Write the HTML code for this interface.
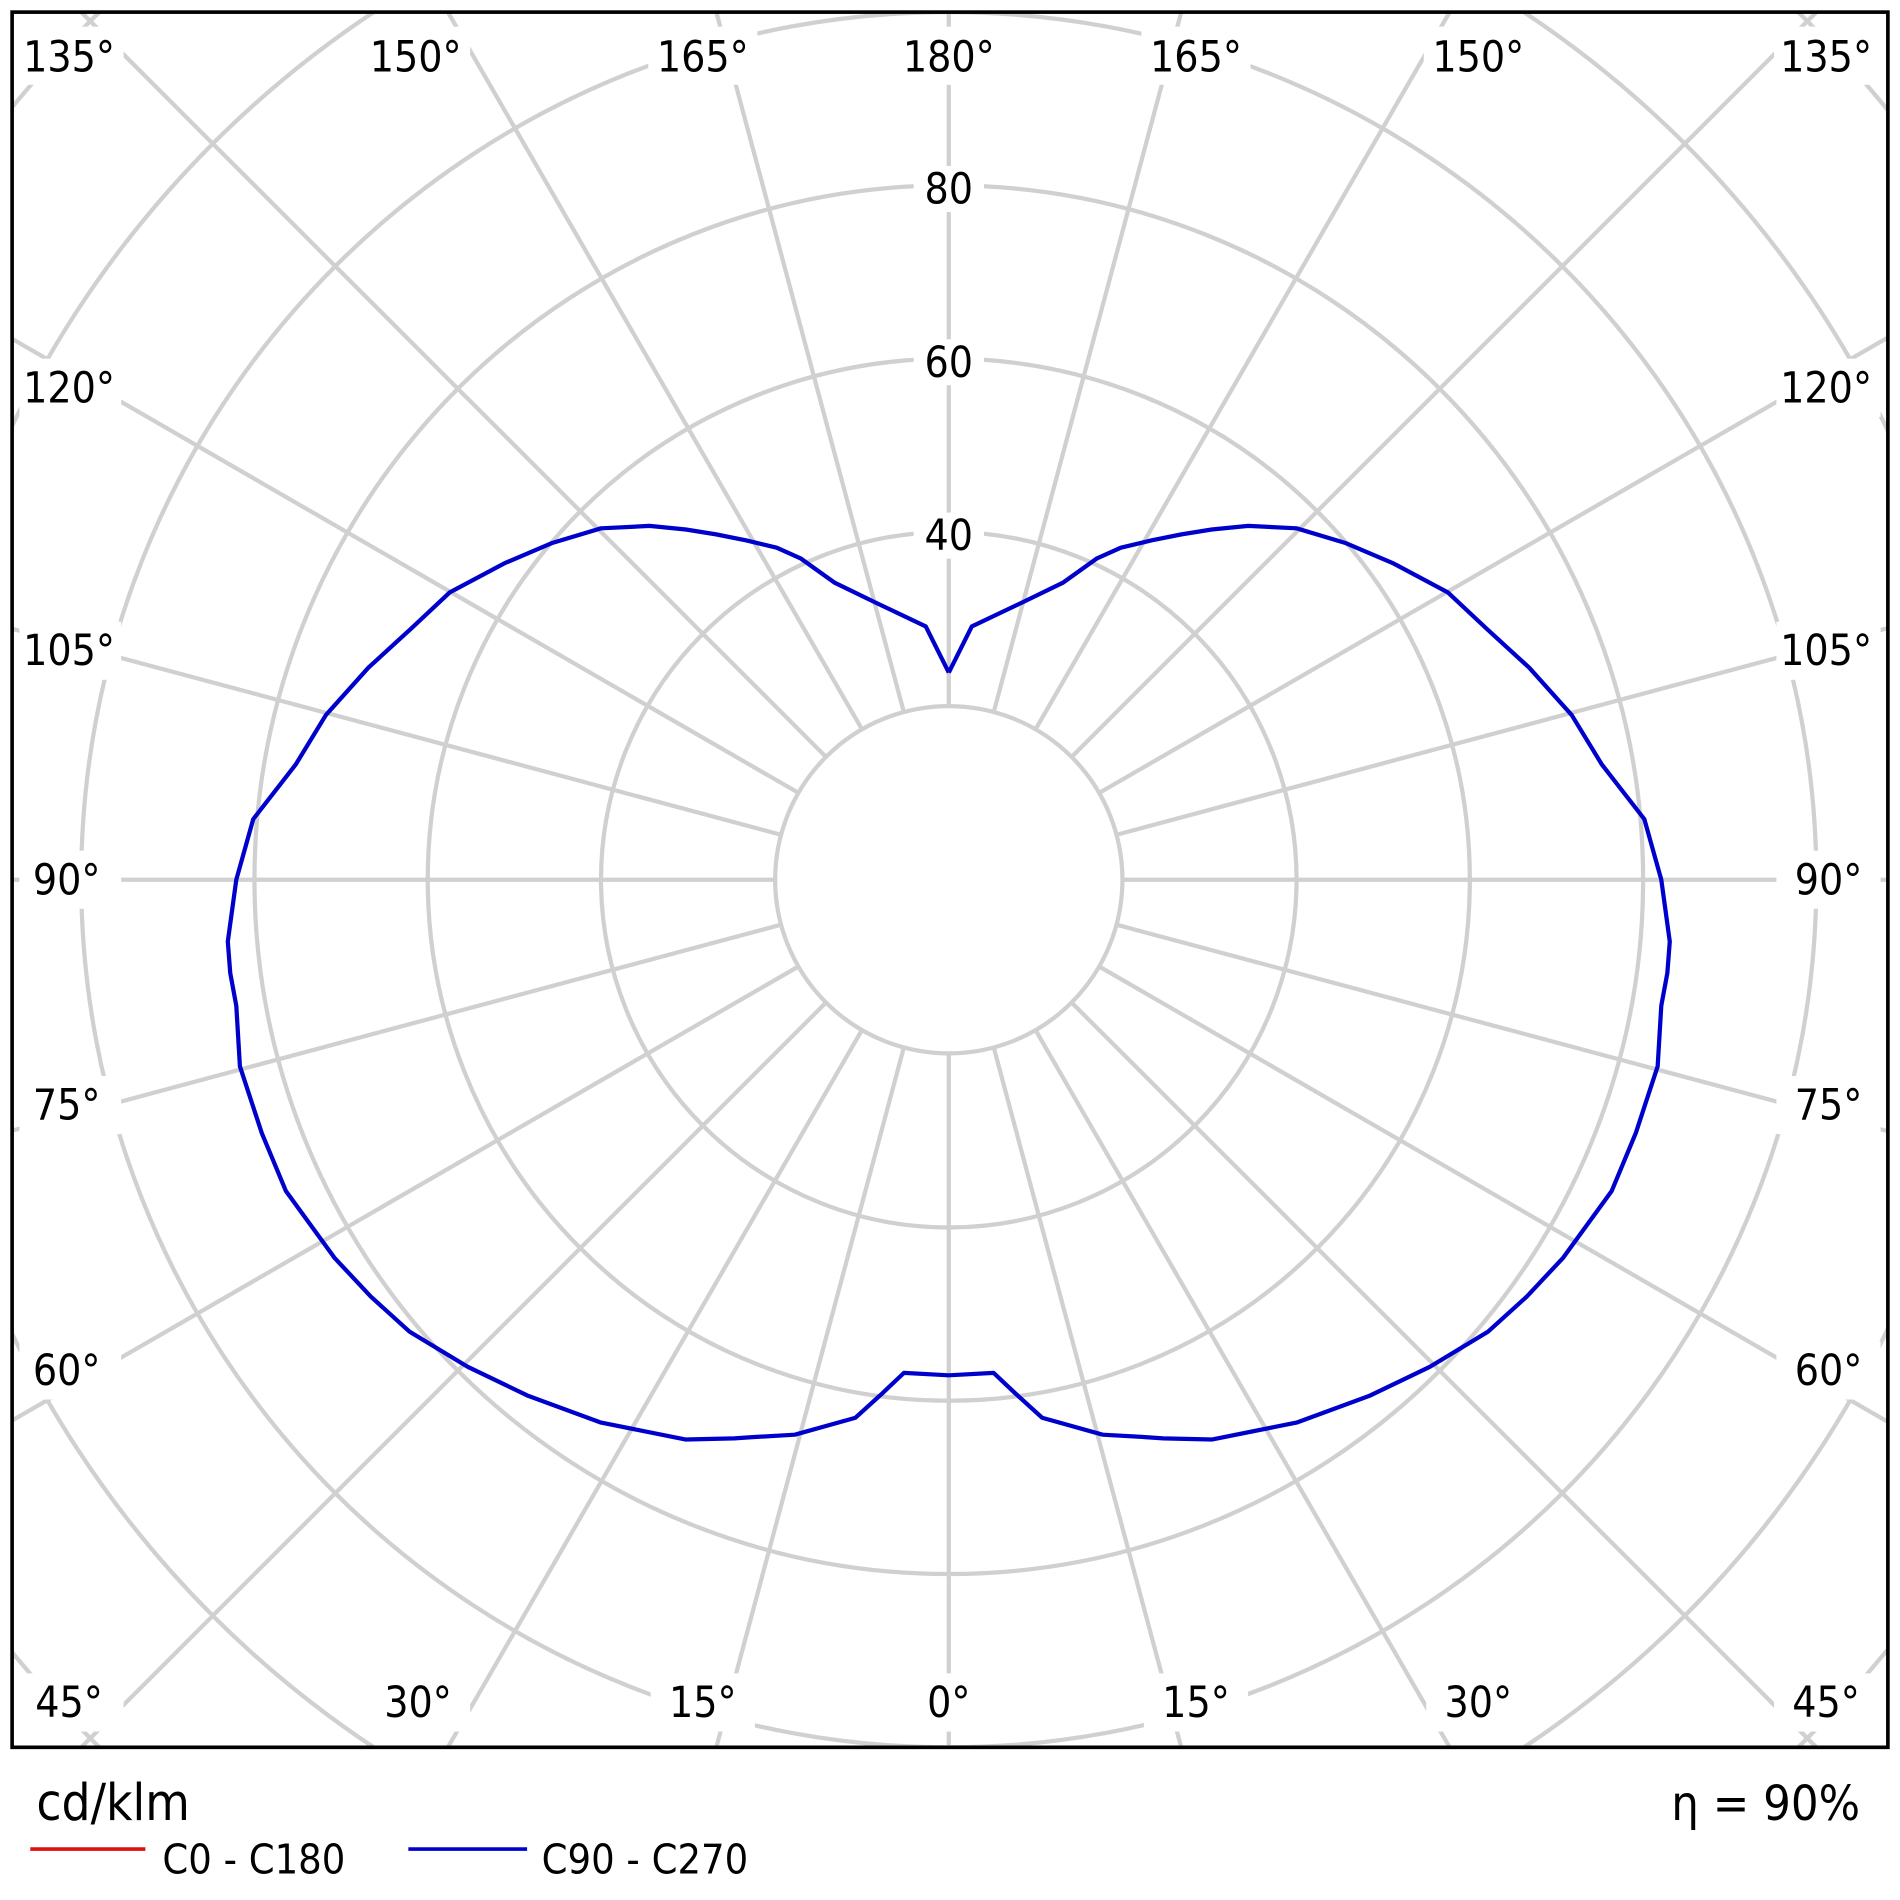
<!DOCTYPE html>
<html><head><meta charset="utf-8"><style>html,body{margin:0;padding:0;background:#fff;overflow:hidden;width:1900px;height:1900px}svg{display:block}</style></head>
<body>
<svg width="1900" height="1900" viewBox="0 0 1568 1568" xmlns="http://www.w3.org/2000/svg" font-family="'DejaVu Sans Condensed','Liberation Sans',sans-serif">
<defs><clipPath id="c"><rect x="10" y="10" width="1548" height="1432"/></clipPath></defs>
<rect width="1568" height="1568" fill="#fff"/>
<g clip-path="url(#c)" stroke="#d0d0d0" stroke-width="3.5" fill="none">
<circle cx="783" cy="726" r="287"/><circle cx="783" cy="726" r="430"/><circle cx="783" cy="726" r="573"/><circle cx="783" cy="726" r="716"/><circle cx="783" cy="726" r="859"/><circle cx="783" cy="726" r="1002"/>
<path d="M783,869 L783,1900 M783,583 L783,-500 M926,726 L1900,726 M640,726 L-500,726"/>
<path id="radials" d=""/>
<circle cx="783" cy="726" r="143.3" fill="#fff"/>
</g>
<script>
(function(){var d="";for(var a=15;a<360;a+=15){if(a%90==0)continue;var t=a*Math.PI/180,s=Math.sin(t),c=Math.cos(t);d+="M"+(783+143.3*s).toFixed(1)+","+(726+143.3*c).toFixed(1)+" L"+(783+1400*s).toFixed(1)+","+(726+1400*c).toFixed(1)+" ";}document.getElementById("radials").setAttribute("d",d);})();
</script>
<g fill="#fff">
<rect x="754" y="423" width="58" height="38"/><rect x="754" y="280" width="58" height="38"/><rect x="754" y="137" width="58" height="38"/>
<rect x="18" y="22" width="84" height="48"/><rect x="298" y="22" width="90" height="48"/><rect x="535" y="22" width="90" height="48"/><rect x="738" y="22" width="90" height="48"/><rect x="942" y="22" width="90" height="48"/><rect x="1175" y="22" width="90" height="48"/><rect x="1464" y="22" width="86" height="48"/>
<rect x="16" y="296" width="84" height="48"/><rect x="16" y="513" width="84" height="48"/><rect x="16" y="702" width="84" height="48"/><rect x="16" y="888" width="84" height="48"/><rect x="16" y="1107" width="84" height="48"/>
<rect x="1466" y="296" width="86" height="48"/><rect x="1466" y="513" width="86" height="48"/><rect x="1466" y="702" width="86" height="48"/><rect x="1466" y="888" width="86" height="48"/><rect x="1466" y="1107" width="86" height="48"/>
<rect x="18" y="1381" width="84" height="48"/><rect x="302" y="1381" width="86" height="48"/><rect x="537" y="1381" width="86" height="48"/><rect x="752" y="1381" width="62" height="48"/><rect x="944" y="1381" width="86" height="48"/><rect x="1177" y="1381" width="86" height="48"/><rect x="1464" y="1381" width="86" height="48"/>
</g>
<g font-size="35" fill="#000" text-anchor="middle">
<text x="783" y="454">40</text><text x="783" y="311">60</text><text x="783" y="168">80</text>
<text x="57" y="59">135°</text><text x="343" y="59">150°</text><text x="580" y="59">165°</text><text x="783" y="59">180°</text><text x="987" y="59">165°</text><text x="1220" y="59">150°</text><text x="1507" y="59">135°</text>
<text x="57" y="332">120°</text><text x="57" y="549">105°</text><text x="55" y="738">90°</text><text x="55" y="924">75°</text><text x="55" y="1143">60°</text>
<text x="1507" y="332">120°</text><text x="1507" y="549">105°</text><text x="1509" y="738">90°</text><text x="1509" y="924">75°</text><text x="1509" y="1143">60°</text>
<text x="57" y="1417">45°</text><text x="345" y="1417">30°</text><text x="580" y="1417">15°</text><text x="783" y="1417">0°</text><text x="987" y="1417">15°</text><text x="1220" y="1417">30°</text><text x="1507" y="1417">45°</text>
</g>
<polyline fill="none" stroke="#0000cc" stroke-width="3.5" stroke-linejoin="round" points="
783,555 802,517 844,497 877,481 905,461 925,452 950,446 975,441 1000,437 1030,434 1070,436 1110,448 1150,465 1195,489 1227,519 1262,551 1297,590 1322,631 1357,676 1371,726 1378,777 1376,803 1371,830 1368,880 1350,935 1330,983 1290,1038 1260,1070 1228,1099 1180,1128 1130,1152 1070,1174 1000,1188 960,1187 945,1186 910,1184 860,1170 838,1150 820,1133 783,1135
746,1133 728,1150 706,1170 656,1184 621,1186 606,1187 566,1188 496,1174 436,1152 386,1128 338,1099 306,1070 276,1038 236,983 216,935 198,880 195,830 190,803 188,777 195,726 209,676 244,631 269,590 304,551 339,519 371,489 416,465 456,448 496,436 536,434 566,437 591,441 616,446 641,452 661,461 689,481 722,497 764,517 783,555"/>
<rect x="10" y="10" width="1548" height="1432" fill="none" stroke="#000" stroke-width="3"/>
<text x="30" y="1502" font-size="42">cd/klm</text>
<text x="1535" y="1502" font-size="40" text-anchor="end">η = 90%</text>
<line x1="25" y1="1526" x2="120" y2="1526" stroke="#dd1111" stroke-width="3"/>
<text x="134" y="1546" font-size="34">C0 - C180</text>
<line x1="337" y1="1526" x2="435" y2="1526" stroke="#0000cc" stroke-width="3"/>
<text x="447" y="1546" font-size="34">C90 - C270</text>
</svg>
</body></html>
